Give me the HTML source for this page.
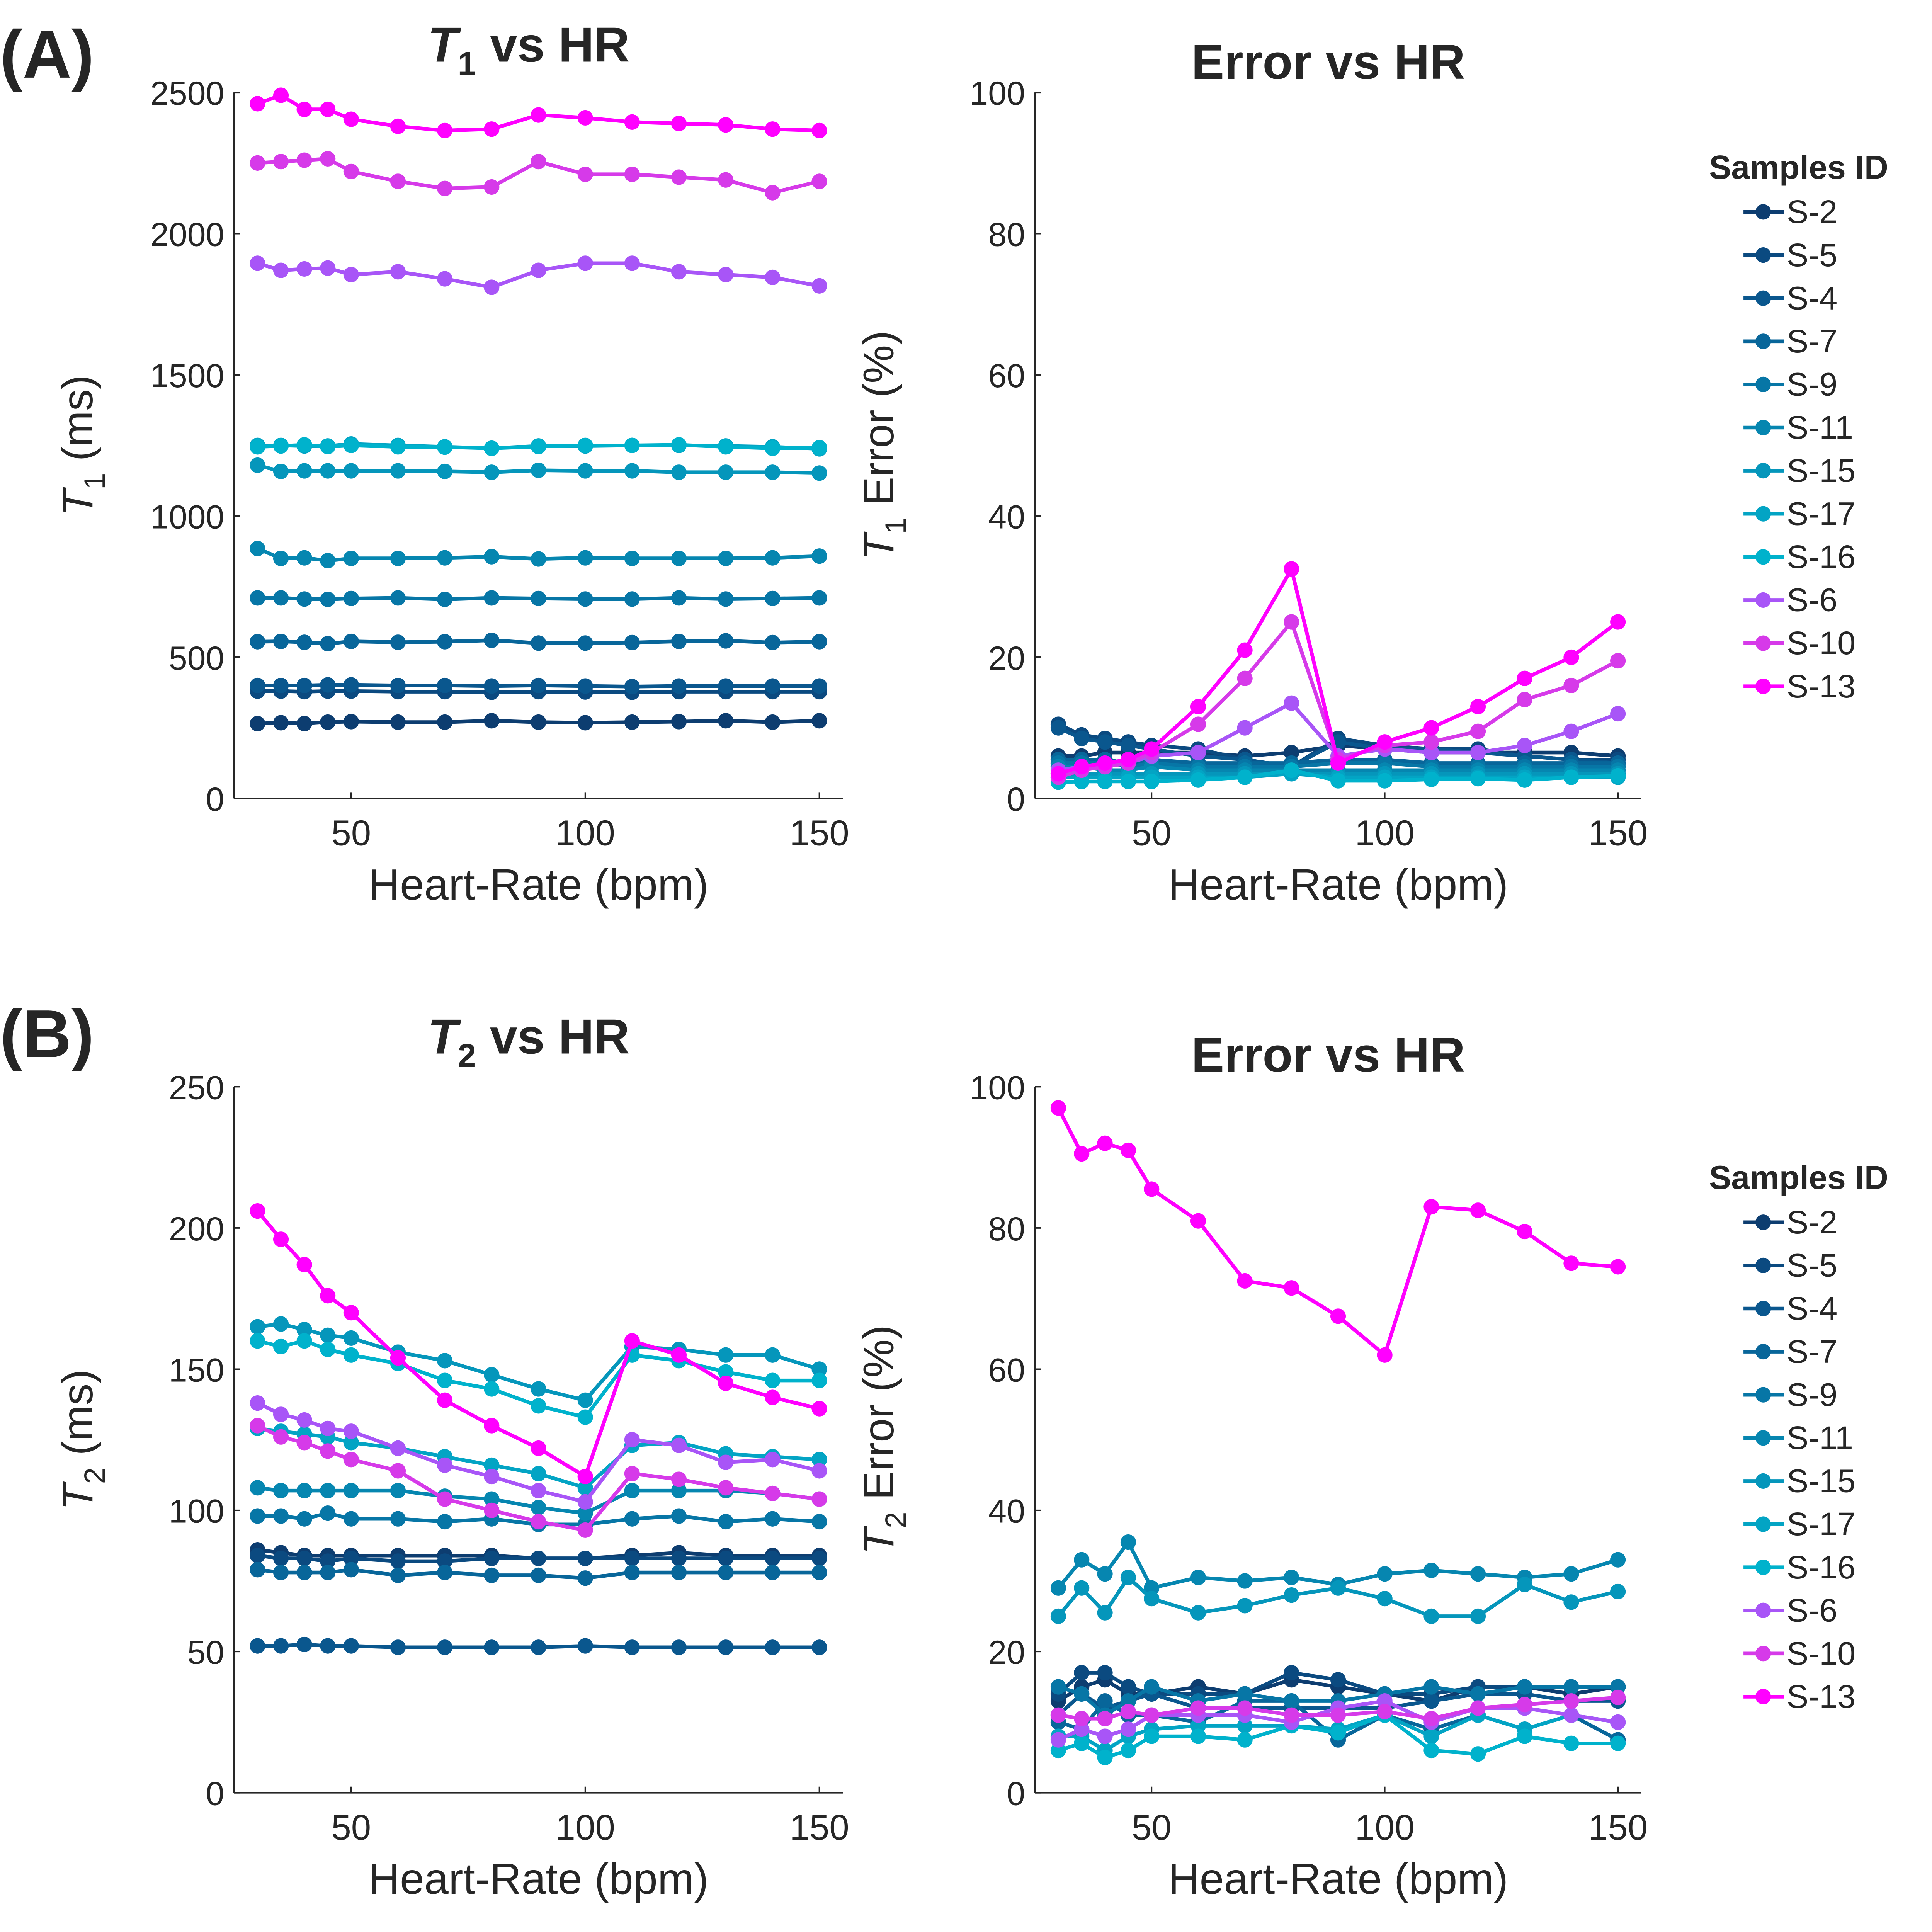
<!DOCTYPE html>
<html><head><meta charset="utf-8"><style>
html,body{margin:0;padding:0;background:#fff;width:100%;height:100%;overflow:hidden}
svg{display:block;width:100vw;height:100vh}
text{font-family:"Liberation Sans",Arial,sans-serif;fill:#262626}
</style></head><body>
<svg id="fig" viewBox="0 0 1568 1568" preserveAspectRatio="none" xmlns="http://www.w3.org/2000/svg"></svg>
<script>
const hr=[30,35,40,45,50,60,70,80,90,100,110,120,130,140,150];
const names=["S-2","S-5","S-4","S-7","S-9","S-11","S-15","S-17","S-16","S-6","S-10","S-13"];
const colors=["#0d3d70","#0b4a80","#0a578e","#08669a","#0776a6","#0686b0","#0596bb","#03a4c4","#00b2cc","#a855f7","#d63ae9","#ff00ff"];
const t1=[
[265,268,265,270,272,270,270,275,270,268,270,272,275,270,275],
[380,380,378,380,380,378,378,376,378,377,376,378,378,378,378],
[400,400,400,402,402,400,400,398,400,398,396,398,398,398,398],
[555,556,553,548,556,553,555,560,550,550,552,556,558,552,555],
[710,710,706,705,708,710,705,710,708,706,706,710,706,708,710],
[885,850,852,842,850,850,852,856,848,852,850,850,850,852,858],
[1180,1158,1160,1160,1160,1160,1158,1155,1162,1160,1160,1155,1155,1155,1152],
[1250,1250,1248,1248,1255,1250,1245,1240,1248,1248,1250,1250,1248,1245,1238],
[1245,1248,1252,1246,1250,1245,1244,1240,1246,1250,1250,1252,1245,1240,1242],
[1895,1870,1875,1878,1855,1865,1840,1810,1870,1895,1895,1865,1855,1845,1815],
[2250,2255,2260,2265,2220,2185,2160,2165,2255,2210,2210,2200,2190,2145,2185],
[2460,2490,2440,2440,2405,2380,2365,2370,2420,2410,2395,2390,2385,2370,2365]];
const e1=[
[6,6,6.5,6.5,6.5,6.5,6,6.5,7.5,7,6.5,6.5,6.5,6.5,6],
[10.5,9,8.5,8,7.5,7,5.5,4.5,8.5,7.5,7,7,6,5.5,5.5],
[10,8.5,8,7.5,7,6,5.5,4.5,8,7,7,6.5,6,5.5,5],
[5.5,5.5,5.5,5,5.5,5,5,5,5.5,5.5,5,5,5,5,5],
[5,5,5,4.5,5,4.5,4.5,4.5,5,5,4.5,4.5,4.5,4.5,4.5],
[4.5,4.5,4,4,4.5,4,4,4,4,4,4,4,4,4,4],
[3.5,3.5,3.5,3.5,3.5,3.5,3.5,3.5,3.5,3.5,3.5,3.5,3.5,3.5,3.5],
[3,3,3,3,3,3,3,3.5,3,3,3,3,3,3,3],
[2.3,2.4,2.4,2.4,2.4,2.6,3,4,2.5,2.5,2.7,2.8,2.6,3,3.2],
[4,4.5,4.5,5,6,6.5,10,13.5,6,7,6.5,6.5,7.5,9.5,12],
[3,4,4.5,5,6.5,10.5,17,25,5.5,7.5,8,9.5,14,16,19.5],
[3.5,4.5,5,5.5,7,13,21,32.5,5,8,10,13,17,20,25]];
const t2=[
[86,85,84,84,84,84,84,84,83,83,84,85,84,84,84],
[84,83,83,82,83,82,82,83,83,83,83,83,83,83,83],
[52,52,52.5,52,52,51.5,51.5,51.5,51.5,52,51.5,51.5,51.5,51.5,51.5],
[79,78,78,78,79,77,78,77,77,76,78,78,78,78,78],
[98,98,97,99,97,97,96,97,95,95,97,98,96,97,96],
[108,107,107,107,107,107,105,104,101,99,107,107,107,106,104],
[165,166,164,162,161,156,153,148,143,139,158,157,155,155,150],
[129,128,127,126,124,122,119,116,113,108,123,124,120,119,118],
[160,158,160,157,155,152,146,143,137,133,155,153,149,146,146],
[138,134,132,129,128,122,116,112,107,103,125,123,117,118,114],
[130,126,124,121,118,114,104,100,96,93,113,111,108,106,104],
[206,196,187,176,170,154,139,130,122,112,160,155,145,140,136]];
const e2=[
[13,15,16,14,14,15,14,16,15,14,13,15,15,14,15],
[14,17,17,15,14,14,14,17,16,14,14,15,15,15,15],
[11,14,12,13,14,12,12,12,12,12,13,14,14,13,13],
[10,9,13,11,11,10,13,13,7.5,11,9,11,9,11,7.5],
[15,14,11,13,15,13,14,13,13,14,15,14,15,15,15],
[29,33,31,35.5,29,30.5,30,30.5,29.5,31,31.5,31,30.5,31,33],
[25,29,25.5,30.5,27.5,25.5,26.5,28,29,27.5,25,25,29.5,27,28.5],
[8,8,6,8,9,9.5,9.5,9.5,9,11,8,11,9,11,10],
[6,7,5,6,8,8,7.5,9.5,8.5,11,6,5.5,8,7,7],
[7.5,9,8,9,11,11,11,10,12,13,10,12,12,11,10],
[11,10.5,10.5,11.5,11,12,12,11,11,11.5,10.5,12,12.5,13,13.5],
[97,90.5,92,91,85.5,81,72.5,71.5,67.5,62,83,82.5,79.5,75,74.5]];
const yt1=[0,500,1000,1500,2000,2500], ytE=[0,20,40,60,80,100], yt2=[0,50,100,150,200,250];
const xt=[50,100,150];

const NS="http://www.w3.org/2000/svg", svg=document.getElementById('fig');
function el(tag,attrs,parent){const e=document.createElementNS(NS,tag);for(const k in attrs)e.setAttribute(k,attrs[k]);(parent||svg).appendChild(e);return e;}
function txt(s,attrs,parent){const t=el('text',attrs,parent);t.textContent=s;return t;}

function panel(id,x0,x1,yTop,yBot,ymax,yticks,data,ylab,ysub,title,tsub,ty){
  const g=el('g',{});
  
  
  const X=v=>x0+(v-25)/(155-25)*(x1-x0);
  const Y=v=>yBot-v/ymax*(yBot-yTop);
  const ax=el('g',{},g);
  
  
  el('line',{x1:x0,y1:yTop,x2:x0,y2:yBot,stroke:'#262626','stroke-width':1.2},ax);
  el('line',{x1:x0,y1:yBot,x2:x1,y2:yBot,stroke:'#262626','stroke-width':1.2},ax);
  yticks.forEach(v=>{
    el('line',{x1:x0,y1:Y(v),x2:x0+5,y2:Y(v),stroke:'#262626','stroke-width':1.2},ax);
    const t=txt(String(v),{x:x0-8,y:Y(v)+10,'text-anchor':'end','font-size':27},ax);
    
    
  });
  xt.forEach(v=>{
    el('line',{x1:X(v),y1:yBot,x2:X(v),y2:yBot-5,stroke:'#262626','stroke-width':1.2},ax);
    const t=txt(String(v),{x:X(v),y:yBot+38,'text-anchor':'middle','font-size':29},ax);
    
    
  });
  const xl=txt('Heart-Rate (bpm)',{x:(x0+x1)/2,y:yBot+82,'text-anchor':'middle','font-size':35.5},g);
  
  
  const cy=(yTop+yBot)/2;
  const yl=el('text',{transform:`translate(${x0-115},${cy}) rotate(-90)`,'text-anchor':'middle','font-size':35},g);
  
  
  const a=document.createElementNS(NS,'tspan');a.setAttribute('font-style','italic');a.textContent='T';yl.appendChild(a);
  const b=document.createElementNS(NS,'tspan');b.setAttribute('font-size',24);b.setAttribute('dy',10);b.textContent=ysub;yl.appendChild(b);
  const c=document.createElementNS(NS,'tspan');c.setAttribute('dy',-10);c.textContent=ylab;yl.appendChild(c);
  const tt=el('text',{x:(x0+x1)/2-8,y:ty,'text-anchor':'middle','font-size':40,'font-weight':'bold',fill:'#000'},g);
  
  
  if(tsub){
    const p=document.createElementNS(NS,'tspan');p.setAttribute('font-style','italic');p.textContent='T';tt.appendChild(p);
    const q=document.createElementNS(NS,'tspan');q.setAttribute('font-size',27);q.setAttribute('dy',11);q.textContent=tsub;tt.appendChild(q);
    const r=document.createElementNS(NS,'tspan');r.setAttribute('dy',-11);r.textContent=' vs HR';tt.appendChild(r);
  } else tt.textContent=title;
  data.forEach((s,i)=>{
    const sg=el('g',{},g);
    
    
    el('polyline',{points:s.map((v,j)=>X(hr[j])+','+Y(v)).join(' '),fill:'none',stroke:colors[i],'stroke-width':3,'stroke-linejoin':'round'},sg);
    s.forEach((v,j)=>{
      const m=el('circle',{cx:X(hr[j]),cy:Y(v),r:6.3,fill:colors[i]},sg);
      
      
    });
  });
}
function legend(y0){
  const g=el('g',{});
  
  
  const t=txt('Samples ID',{x:1387,y:y0,'font-size':27,'font-weight':'bold',fill:'#000'},g);
  
  
  names.forEach((n,i)=>{
    const y=y0+36+i*35;
    const e=el('g',{},g);
    
    
    el('line',{x1:1415,y1:y-9,x2:1448,y2:y-9,stroke:colors[i],'stroke-width':3},e);
    el('circle',{cx:1431,cy:y-9,r:6.3,fill:colors[i]},e);
    txt(n,{x:1450,y:y,'font-size':26.5},e);
  });
}
panel('t1-vs-hr-chart',190,684,75,648,2500,yt1,t1,' (ms)','1','',"1",50);
panel('t1-error-chart',840,1332,75,648,100,ytE,e1,' Error (%)','1','Error vs HR',null,64);
panel('t2-vs-hr-chart',190,684,882,1455,250,yt2,t2,' (ms)','2','',"2",855);
panel('t2-error-chart',840,1332,882,1455,100,ytE,e2,' Error (%)','2','Error vs HR',null,870);
legend(145); legend(965);
const la=txt('(A)',{x:0,y:63,'font-size':55,'font-weight':'bold',fill:'#000'});


const lb=txt('(B)',{x:0,y:858,'font-size':55,'font-weight':'bold',fill:'#000'});


</script>
</body></html>
